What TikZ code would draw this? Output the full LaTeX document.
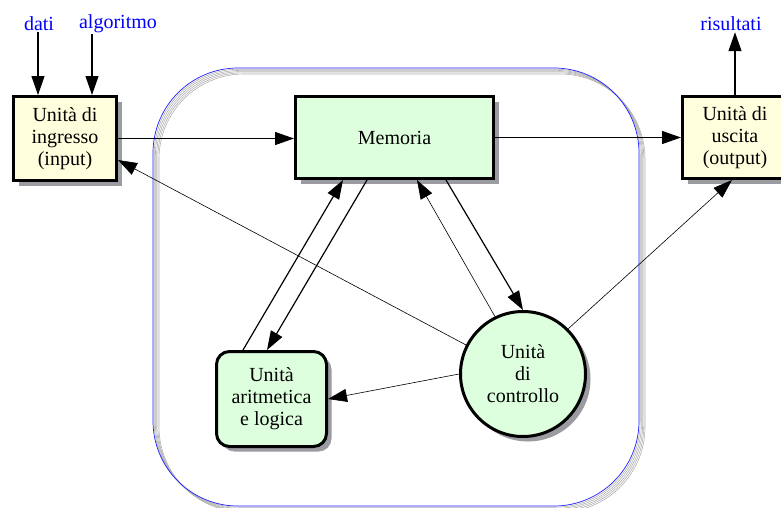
\documentclass[tikz,border=0pt]{standalone}
\usepackage{fontspec}
\setmainfont{Liberation Serif}
\usetikzlibrary{arrows.meta,shadows,calc}
\definecolor{boxyellow}{RGB}{255,255,222}
\definecolor{boxgreen}{RGB}{222,255,222}
\definecolor{shadowgray}{RGB}{155,155,162}
\definecolor{frameblue}{RGB}{30,30,255}
\tikzset{
  txt/.style={font=\fontsize{20}{22}\selectfont},
  lbl/.style={txt, text=blue, inner sep=1pt},
  unitbox/.style={txt, draw=black, line width=3pt, align=center, inner sep=2pt,
    drop shadow={shadow xshift=5pt, shadow yshift=-5pt, fill=shadowgray, opacity=1}},
  iobox/.style={unitbox, fill=boxyellow, minimum width=103pt, minimum height=84pt},
  membox/.style={unitbox, fill=boxgreen, minimum width=198pt, minimum height=82pt},
  alubox/.style={unitbox, fill=boxgreen, rounded corners=13pt, minimum width=110pt, minimum height=95pt},
  ctrlcircle/.style={unitbox, fill=boxgreen, circle, minimum size=125pt},
  thick arrow/.style={line width=1.2pt, -{Triangle[length=19pt,width=13pt]}},
  thin arrow/.style={line width=0.6pt, -{Triangle[length=19pt,width=13pt]}},
}
\begin{document}
\begin{tikzpicture}[x=1pt,y=-1pt]
\useasboundingbox (0,0) rectangle (781,507);
\clip (0,0) rectangle (781,507);
% enclosing frame with grey shadow band
\foreach \s in {1.2,2.4,3.6,4.8,6.0}{
  \draw[gray!60, line width=0.6pt, rounded corners=85pt, shift={(\s,\s)}] (153,68) rectangle (639,506);
}
\draw[frameblue, line width=0.7pt, rounded corners=85pt] (153,68) rectangle (639,506);
% labels
\node[lbl] (dati) at (39,24) {dati};
\node[lbl] (alg) at (118,24) {algoritmo};
\node[lbl] (ris) at (731,24) {risultati};
% units
\node[iobox] (in) at (65,138.5) {Unità di\\ingresso\\(input)};
\node[membox] (mem) at (394.5,137.5) {Memoria};
\node[iobox, minimum width=105pt, minimum height=82pt] (out) at (735,137.5) {Unità di\\uscita\\(output)};
\node[alubox] (alu) at (271.5,399) {Unità\\aritmetica\\e logica};
\node[ctrlcircle] (ctrl) at (523,374) {Unità\\di\\controllo};
% connectors
\draw[thick arrow] (dati.south -| 38,0) -- (in.north -| 38,0);
\draw[thick arrow] (alg.south -| 92,0) -- (in.north -| 92,0);
\draw[thick arrow] (out.north) -- (ris.south -| out.north);
\draw[thick arrow] (in.east) -- (in.east -| mem.west);
\draw[thick arrow] (mem.east |- out.west) -- (out.west);
\draw[thick arrow] ($(alu.north)+(-28.5,0)$) -- ($(mem.south)+(-51.5,0)$);
\draw[thick arrow] ($(mem.south)+(-27.5,0)$) -- ($(alu.north)+(-4.5,0)$);
\draw[thick arrow] ($(mem.south)+(51.5,0)$) -- (ctrl.north);
\draw[thin arrow] (ctrl.116) -- ($(mem.south)+(22.5,0)$);
\draw[thin arrow] (ctrl.153) -- ($(in.east)+(0,21.5)$);
\draw[thin arrow] (ctrl.45) -- ($(out.south)+(-3,0)$);
\draw[thin arrow] (ctrl.180) -- (alu.east);
\end{tikzpicture}
\end{document}
